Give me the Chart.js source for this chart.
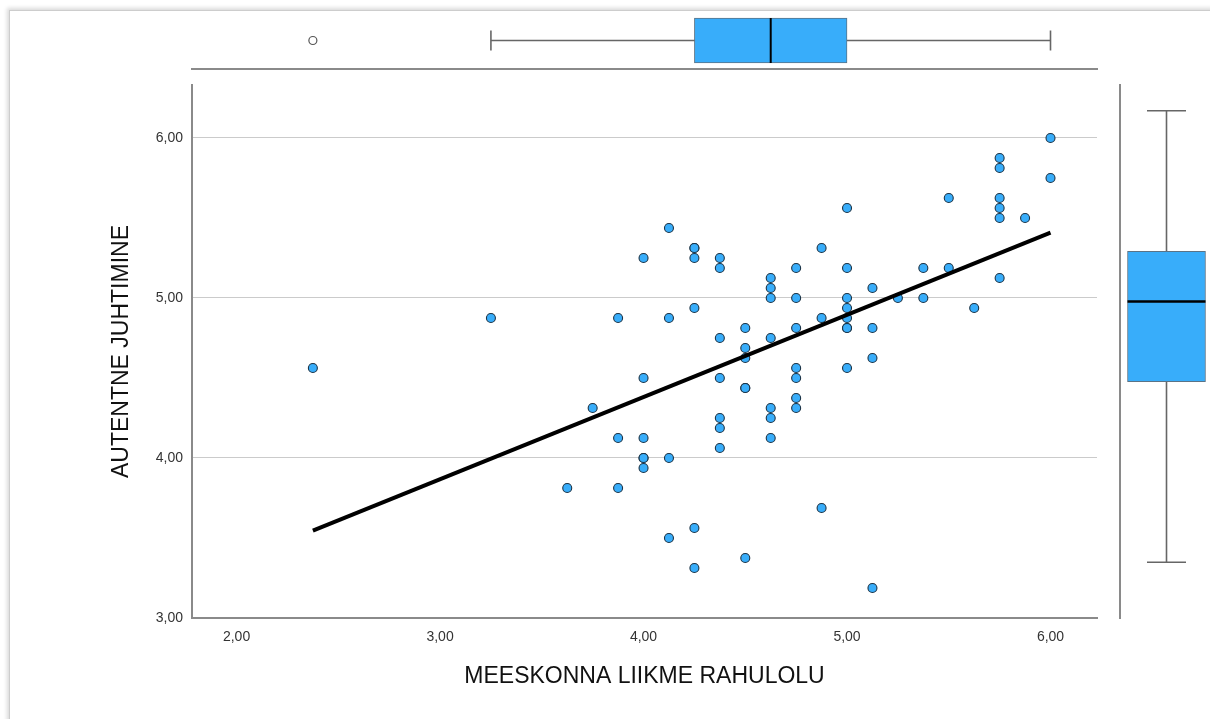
<!DOCTYPE html>
<html>
<head>
<meta charset="utf-8">
<script src="https://cdn.jsdelivr.net/npm/chart.js@4.4.1/dist/chart.umd.min.js"></script>
<style>
  html, body { margin:0; padding:0; background:#fff; width:1210px; height:719px; overflow:hidden; }
  #frame { position:absolute; left:9px; top:10px; width:1240px; height:760px;
           border:1px solid #cdcdcd; box-shadow:-2px -2px 4px rgba(0,0,0,0.15); }
  canvas { position:absolute; }
</style>
</head>
<body>
<div id="frame"></div>
<canvas id="main" width="1210" height="719" style="left:0;top:0;width:1210px;height:719px"></canvas>
<canvas id="top" width="1210" height="80" style="left:0;top:0;width:1210px;height:80px"></canvas>
<canvas id="right" width="110" height="719" style="left:1100px;top:0;width:110px;height:719px"></canvas>
<script>
// ---------------- data ----------------
const satisfaction = [
  2.375, 3.25, 3.625, 3.75,
  3.875, 3.875, 3.875,
  4.0, 4.0, 4.0, 4.0, 4.0, 4.0,
  4.125, 4.125, 4.125, 4.125,
  4.25, 4.25, 4.25, 4.25, 4.25, 4.25,
  4.375, 4.375, 4.375, 4.375, 4.375, 4.375, 4.375,
  4.5, 4.5, 4.5, 4.5, 4.5, 4.5,
  4.625, 4.625, 4.625, 4.625, 4.625, 4.625, 4.625,
  4.75, 4.75, 4.75, 4.75, 4.75, 4.75, 4.75,
  4.875, 4.875, 4.875,
  5.0, 5.0, 5.0, 5.0, 5.0, 5.0, 5.0, 5.0,
  5.125, 5.125, 5.125, 5.125,
  5.25,
  5.375, 5.375,
  5.5, 5.5,
  5.625,
  5.75, 5.75, 5.75, 5.75, 5.75, 5.75,
  5.875,
  6.0, 6.0
];
const leadership = [
  4.5625, 4.875, 3.8125, 4.3125,
  4.875, 4.125, 3.8125,
  5.25, 4.5, 4.125, 4.0, 4.0, 3.9375,
  5.4375, 4.875, 4.0, 3.5,
  5.3125, 5.3125, 5.25, 4.9375, 3.5625, 3.3125,
  5.25, 5.1875, 4.75, 4.5, 4.25, 4.1875, 4.0625,
  4.8125, 4.6875, 4.625, 4.4375, 4.4375, 3.375,
  5.125, 5.0625, 5.0, 4.75, 4.3125, 4.25, 4.125,
  5.1875, 5.0, 4.8125, 4.5625, 4.5, 4.375, 4.3125,
  5.3125, 4.875, 3.6875,
  5.5625, 5.1875, 5.0, 4.9375, 4.875, 4.8125, 4.8125, 4.5625,
  5.0625, 4.8125, 4.625, 3.1875,
  5.0,
  5.1875, 5.0,
  5.625, 5.1875,
  4.9375,
  5.875, 5.8125, 5.625, 5.5625, 5.5, 5.125,
  5.5,
  6.0, 5.75
];
// fitted regression line end points
const fitX = [2.375, 6.0];
const fitY = [3.546, 5.408];

// marginal box plots: [lower whisker, Q1, median, Q3, upper whisker]
const boxSatisfaction = [3.25, 4.25, 4.625, 5.0, 6.0];
const outliersSatisfaction = [2.375];
const boxLeadership = [3.1875, 4.3125, 4.8125, 5.125, 6.0];

const xTicks = [2, 3, 4, 5, 6];
const yTicks = [3, 4, 5, 6];

const xTitle = 'MEESKONNA LIIKME RAHULOLU';
const yTitle = 'AUTENTNE JUHTIMINE';

// ---------------- styling ----------------
const FONT = "'Liberation Sans', Arial, sans-serif";
const BLUE = '#38adfa';
const AXIS = '#8a8a8a';
const WHISK = '#666666';
const fmt = v => Number(v).toFixed(2).replace('.', ',');
Chart.defaults.font.family = FONT;

const X_MIN = 1.781, X_MAX = 6.2285;

// ---------------- main scatter ----------------
new Chart(document.getElementById('main'), {
  type: 'scatter',
  data: {
    datasets: [
      {
        type: 'line',
        data: fitX.map((x, i) => ({ x, y: fitY[i] })),
        borderColor: '#000', borderWidth: 4, pointRadius: 0, fill: false, order: 0
      },
      {
        data: satisfaction.map((x, i) => ({ x, y: leadership[i] })),
        pointRadius: 4.5, pointBackgroundColor: BLUE,
        pointBorderColor: '#1d3345', pointBorderWidth: 1.1, order: 1
      }
    ]
  },
  options: {
    responsive: false, animation: false,
    layout: { autoPadding: false, padding: { left: 107.5, top: 85, right: 113, bottom: 29 } },
    plugins: { legend: { display: false }, tooltip: { enabled: false } },
    scales: {
      x: {
        type: 'linear', min: X_MIN, max: X_MAX,
        afterBuildTicks: s => { s.ticks = xTicks.map(v => ({ value: v })); },
        afterFit: s => { s.height = 72; },
        grid: { display: false, drawTicks: false },
        border: { display: true, color: AXIS, width: 2 },
        ticks: { padding: 11, color: '#333', font: { family: FONT, size: 14 }, callback: v => fmt(v), maxRotation: 0 },
        title: { display: true, text: xTitle, color: '#111', font: { family: FONT, size: 23 }, padding: { top: 0, bottom: 0 } }
      },
      y: {
        type: 'linear', min: 3, max: 6.331,
        afterBuildTicks: s => { s.ticks = yTicks.map(v => ({ value: v })); },
        afterFit: s => { s.width = 84.5; },
        grid: { color: '#cbcbcb', lineWidth: 1, drawTicks: false },
        border: { display: true, color: AXIS, width: 2 },
        ticks: { padding: 9, color: '#333', font: { family: FONT, size: 14 }, callback: v => fmt(v) },
        title: { display: true, text: yTitle, color: '#111', font: { family: FONT, size: 23 }, padding: { top: 0, bottom: 0 } }
      }
    }
  }
});

// ---------------- top marginal box plot ----------------
new Chart(document.getElementById('top'), {
  type: 'scatter',
  data: {
    datasets: [
      {
        type: 'line',
        data: [{ x: boxSatisfaction[0], y: 0 }, { x: boxSatisfaction[4], y: 0 }],
        borderColor: WHISK, borderWidth: 1.6,
        pointStyle: 'line', pointRotation: 90, pointRadius: 10,
        pointBorderColor: WHISK, pointBorderWidth: 1.6, order: 3, clip: false
      },
      {
        type: 'bar', indexAxis: 'y',
        data: [{ x: [boxSatisfaction[1], boxSatisfaction[3]], y: 0 }],
        barThickness: 45, backgroundColor: BLUE, borderColor: '#5b7386',
        borderWidth: 1, borderSkipped: false, order: 2, clip: false
      },
      {
        type: 'scatter',
        data: [{ x: boxSatisfaction[2], y: 0 }],
        pointStyle: 'line', pointRotation: 90, pointRadius: 22.5,
        pointBorderColor: '#000', pointBorderWidth: 2, order: 1, clip: false
      },
      {
        type: 'scatter',
        data: outliersSatisfaction.map(x => ({ x, y: 0 })),
        pointRadius: 4, pointBackgroundColor: '#fff', pointBorderColor: '#555',
        pointBorderWidth: 1.2, order: 0, clip: false
      }
    ]
  },
  options: {
    responsive: false, animation: false,
    layout: { autoPadding: false, padding: { left: 192, right: 113, top: 12, bottom: 11 } },
    plugins: { legend: { display: false }, tooltip: { enabled: false } },
    scales: {
      x: { type: 'linear', min: X_MIN, max: X_MAX, grid: { display: false, drawTicks: false },
           ticks: { display: false }, border: { display: true, color: AXIS, width: 2 } },
      y: { type: 'linear', min: -1, max: 1, display: false }
    }
  }
});

// ---------------- right marginal box plot ----------------
new Chart(document.getElementById('right'), {
  type: 'scatter',
  data: {
    datasets: [
      {
        type: 'line',
        data: [{ x: 0, y: boxLeadership[0] }, { x: 0, y: boxLeadership[4] }],
        borderColor: WHISK, borderWidth: 1.6,
        pointStyle: 'line', pointRotation: 0, pointRadius: 19.5,
        pointBorderColor: WHISK, pointBorderWidth: 1.6, order: 3, clip: false
      },
      {
        type: 'bar', indexAxis: 'x',
        data: [{ x: 0, y: [boxLeadership[1], boxLeadership[3]] }],
        barThickness: 78, backgroundColor: BLUE, borderColor: '#5b7386',
        borderWidth: 1, borderSkipped: false, order: 2, clip: false
      },
      {
        type: 'scatter',
        data: [{ x: 0, y: boxLeadership[2] }],
        pointStyle: 'line', pointRotation: 0, pointRadius: 39,
        pointBorderColor: '#000', pointBorderWidth: 2.5, order: 1, clip: false
      }
    ]
  },
  options: {
    responsive: false, animation: false,
    layout: { autoPadding: false, padding: { left: 20, top: 85, right: 0, bottom: 101 } },
    plugins: { legend: { display: false }, tooltip: { enabled: false } },
    scales: {
      x: { type: 'linear', min: -1, max: 0.875, display: false },
      y: { type: 'linear', min: 2.8399, max: 6.1607, grid: { display: false, drawTicks: false },
           ticks: { display: false }, border: { display: true, color: AXIS, width: 2 } }
    }
  }
});
</script>
</body>
</html>
